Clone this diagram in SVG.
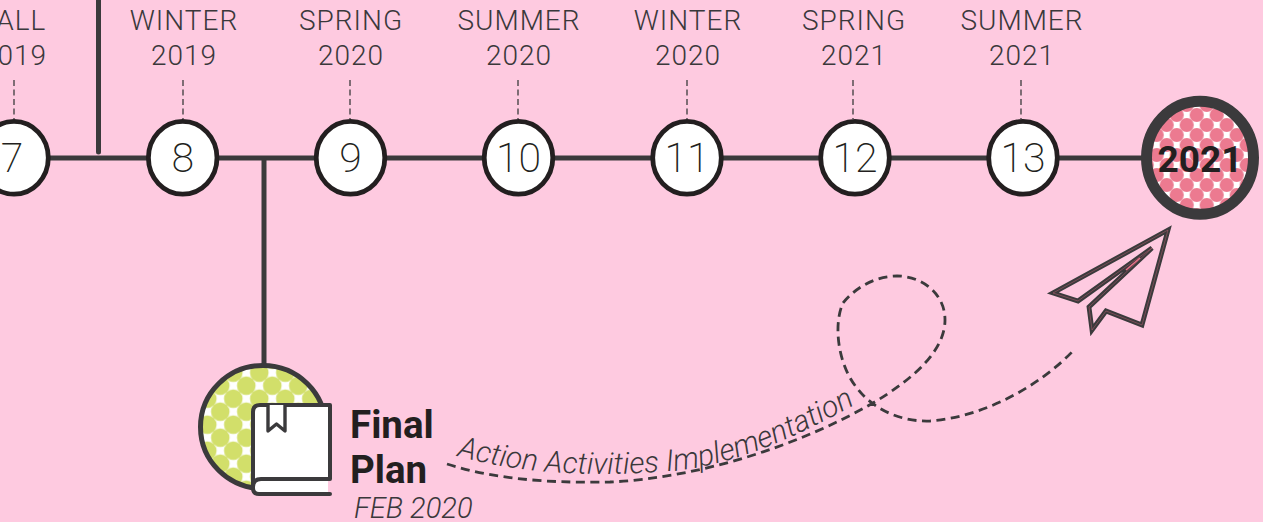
<svg xmlns="http://www.w3.org/2000/svg" xmlns:xlink="http://www.w3.org/1999/xlink" width="1263" height="522" viewBox="0 0 1263 522">
<style>
.season{font:300 28px Roboto,"Liberation Sans",sans-serif;fill:#3a383b;text-anchor:middle;letter-spacing:1px}
.num{font:200 41px Roboto,"Liberation Sans",sans-serif;fill:#231f20;text-anchor:middle}
.ring{fill:#fff;stroke:#231f20;stroke-width:4.800}
.line{fill:none;stroke:#3b3a3c;stroke-width:5;stroke-linecap:round}
.tick{fill:none;stroke:#3b3a3c;stroke-width:1.300;stroke-dasharray:6 3.500}
.dash{fill:none;stroke:#3b3a3c;stroke-width:2.800;stroke-dasharray:9 5.500}
.title{font:700 38.500px Roboto,"Liberation Sans",sans-serif;fill:#231f20}
.ital{font:italic 300 29px Roboto,"Liberation Sans",sans-serif;fill:#3a383b}
</style>
<defs>
<pattern id="pg" patternUnits="userSpaceOnUse" width="26" height="26" x="259.300" y="385.700">
<rect width="26" height="26" fill="#fff"/><g fill="#d2df6a"><circle cx="13" cy="0" r="9.300"/><circle cx="13" cy="26" r="9.300"/><circle cx="0" cy="13" r="9.300"/><circle cx="26" cy="13" r="9.300"/></g>
</pattern>
<pattern id="pr" patternUnits="userSpaceOnUse" width="20" height="20" x="1186.700" y="115">
<rect width="20" height="20" fill="#fff"/><g fill="#ec7a90"><circle cx="10" cy="0" r="7.100"/><circle cx="10" cy="20" r="7.100"/><circle cx="0" cy="10" r="7.100"/><circle cx="20" cy="10" r="7.100"/></g>
</pattern>
<path id="tp" d="M457 456C520 474 600 478 680 470C745 462 805 432 858 403"/>
</defs>
<rect width="1263" height="522" fill="#fecae0"/>
<g id="connectors">
<path class="line" d="M14 158H1150"/>
<path class="line" d="M98.500 0V152"/>
<path class="line" style="stroke-linecap:butt" d="M264 158V366"/>
<path class="tick" d="M14 80V119M183 80V119M350 80V119M518 80V119M687 80V119M853 80V119M1021 80V119"/>
<path class="dash" d="M447 464C500 481 560 483 610 482C700 478 800 445 873 403C915 378 945 350 945 320C945 292 920 276 897 276C875 276 855 288 843 303C833 325 838 365 857 388C875 412 905 422 930 421C985 417 1040 385 1072 352"/>
</g>
<g id="n7"><ellipse class="ring" cx="14" cy="157.800" rx="34.300" ry="36.400"/><text class="num" x="12" y="172">7</text><text class="season" x="14" y="30">FALL</text><text class="season" x="14" y="65">2019</text></g>
<g id="n8"><ellipse class="ring" cx="182.700" cy="157.800" rx="34.300" ry="36.400"/><text class="num" x="182.700" y="172">8</text><text class="season" x="184" y="30">WINTER</text><text class="season" x="184" y="65">2019</text></g>
<g id="n9"><ellipse class="ring" cx="350.500" cy="157.800" rx="34.300" ry="36.400"/><text class="num" x="350.500" y="172">9</text><text class="season" x="351" y="30">SPRING</text><text class="season" x="351" y="65">2020</text></g>
<g id="n10"><ellipse class="ring" cx="518.500" cy="157.800" rx="34.300" ry="36.400"/><text class="num" x="518.500" y="172">10</text><text class="season" x="519" y="30">SUMMER</text><text class="season" x="519" y="65">2020</text></g>
<g id="n11"><ellipse class="ring" cx="687" cy="157.800" rx="34.300" ry="36.400"/><text class="num" x="687" y="172">11</text><text class="season" x="688" y="30">WINTER</text><text class="season" x="688" y="65">2020</text></g>
<g id="n12"><ellipse class="ring" cx="855" cy="157.800" rx="34.300" ry="36.400"/><text class="num" x="855" y="172">12</text><text class="season" x="854" y="30">SPRING</text><text class="season" x="854" y="65">2021</text></g>
<g id="n13"><ellipse class="ring" cx="1023" cy="157.800" rx="34.300" ry="36.400"/><text class="num" x="1023" y="172">13</text><text class="season" x="1022" y="30">SUMMER</text><text class="season" x="1022" y="65">2021</text></g>
<g id="n2021"><ellipse cx="1200" cy="157.800" rx="53.500" ry="56.500" fill="url(#pr)" stroke="#3b3a3c" stroke-width="11"/><text x="1200" y="172" text-anchor="middle" style="font:700 37px Roboto,'Liberation Sans',sans-serif;fill:#231f20">2021</text></g>
<g id="plane" fill="none">
<path d="M1168 230L1053 293L1078 301L1152 248L1089 307L1092 330L1106 311L1142 325Z" stroke="#3b3a3c" stroke-width="4.800"/>
<path d="M1168 230L1053 293L1078 301L1152 248L1089 307L1092 330L1106 311L1142 325Z" stroke="#ec7088" stroke-width=".5" stroke-opacity=".7"/>
<path d="M1126 270L1140 258" stroke="#ec7088" stroke-width="1.600"/>
</g>
<g id="final-plan">
<ellipse cx="263" cy="427" rx="62.500" ry="61.500" fill="url(#pg)" stroke="#3b3a3c" stroke-width="5"/>
<path d="M331 405H260Q253 405 253 412V488Q253 494 259 494H328V479H331Z" fill="#fff"/>
<path d="M330 494H259Q253 494 253 488V412Q253 405 260 405H330V479H261Q253 479 253 487" fill="none" stroke="#3b3a3c" stroke-width="4" stroke-linecap="round" stroke-linejoin="round"/>
<path d="M268 405V431L276.500 424L285 431V405" fill="#fff" stroke="#3b3a3c" stroke-width="3.400" stroke-linejoin="round"/>
<text class="title" x="350" y="438">Final</text>
<text class="title" x="350" y="483">Plan</text>
<text class="ital" x="354" y="518">FEB 2020</text>
</g>
<text class="ital" style="font-size:30px"><textPath href="#tp" xlink:href="#tp">Action Activities Implementation</textPath></text>
</svg>
